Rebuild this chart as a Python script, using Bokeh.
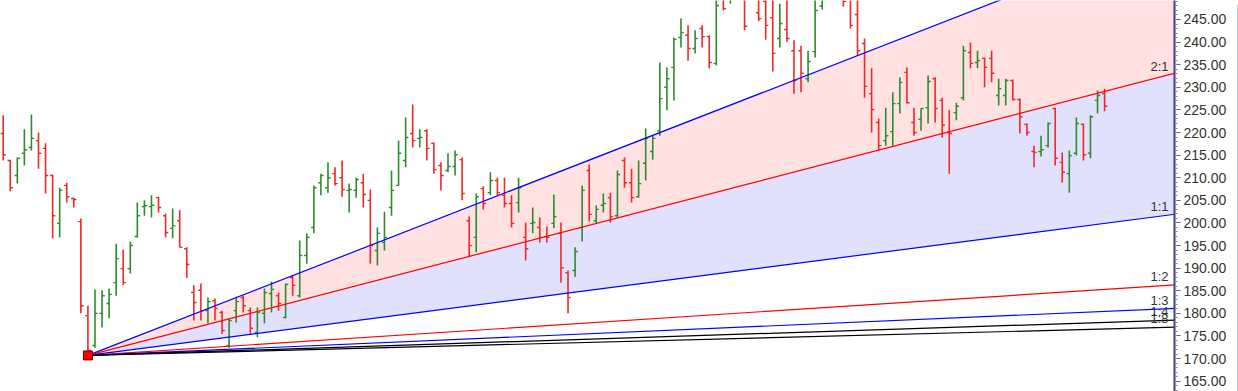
import numpy as np
from bokeh.plotting import figure
from bokeh.models import SingleIntervalTicker, PrintfTickFormatter, Div, Range1d
from bokeh.layouts import row
from bokeh.core.properties import value
from bokeh.embed import file_html
from bokeh.resources import INLINE

opens = [219.8, 213.8, 210.5, 215.4, 216.7, 218.2, 216.5, 210.5, 199.9, 208.3,
         205.4, 200.3, 179.5, 172.9, 180.0, 182.2, 186.8, 189.9, 189.9, 197.0,
         203.6, 203.6, 205.6, 201.6, 198.8, 200.5, 194.3, 184.6, 185.1, 180.6,
         182.8, 180.2, 172.9, 180.6, 183.5, 180.6, 175.8, 180.0, 184.4, 183.9,
         179.1, 187.9, 183.9, 192.8, 199.0, 208.9, 207.8, 210.9, 210.0, 207.2,
         207.2, 208.9, 205.0, 193.9, 195.7, 203.4, 208.3, 213.8, 219.8, 218.7,
         220.4, 217.6, 212.7, 211.6, 212.5, 214.0, 200.5, 196.8, 207.6, 206.7,
         209.4, 206.1, 204.3, 204.5, 196.8, 199.9, 199.0, 197.0, 199.9, 197.7,
         189.0, 189.5, 199.0, 211.6, 200.5, 203.9, 205.6, 201.6, 213.8, 208.9,
         205.8, 213.2, 215.8, 220.4, 230.0, 234.4, 241.0, 241.5, 238.6, 243.0,
         241.2, 235.3, 251.0, 249.5, 252.0, 250.5, 252.5, 246.5, 249.0, 245.4,
         240.8, 242.8, 238.1, 238.1, 231.9, 237.9, 248.0, 252.0, 254.0, 252.5,
         250.5, 246.1, 239.7, 228.6, 222.2, 218.2, 220.2, 226.4, 233.3, 222.2,
         222.9, 225.5, 231.9, 227.1, 220.0, 224.4, 227.7, 237.7, 235.5, 236.4,
         236.4, 228.2, 228.2, 231.5, 227.3, 221.8, 215.8, 215.8, 217.1, 225.3,
         213.4, 210.9, 215.4, 221.8, 215.4, 227.1, 228.6]

highs = [223.8, 214.0, 214.5, 220.7, 224.0, 220.0, 217.6, 210.7, 207.8, 208.9,
         205.6, 201.0, 181.7, 185.3, 185.1, 185.5, 195.4, 194.1, 195.9, 204.5,
         205.0, 206.1, 205.8, 202.1, 203.2, 202.8, 194.6, 186.2, 186.6, 183.5,
         183.3, 180.6, 178.9, 183.7, 183.9, 181.3, 181.3, 185.5, 187.0, 184.6,
         186.6, 188.4, 196.1, 197.7, 208.3, 210.9, 213.4, 212.3, 213.8, 208.7,
         210.0, 210.9, 207.4, 199.0, 202.5, 211.6, 218.2, 223.3, 226.2, 220.7,
         220.7, 217.8, 213.4, 215.4, 216.0, 214.5, 201.4, 206.5, 208.1, 211.2,
         210.0, 210.0, 206.1, 210.0, 200.1, 203.4, 201.2, 199.2, 206.3, 200.1,
         189.5, 194.6, 208.3, 212.9, 203.9, 206.5, 206.7, 211.6, 214.5, 212.0,
         213.8, 220.9, 219.3, 235.5, 234.4, 241.0, 245.2, 243.7, 242.6, 243.7,
         241.5, 251.0, 252.0, 253.0, 255.0, 253.0, 254.0, 252.0, 250.0, 250.0,
         248.5, 250.5, 240.4, 239.2, 238.1, 250.0, 252.0, 255.0, 256.0, 254.0,
         252.0, 250.5, 240.8, 234.2, 223.1, 225.5, 228.9, 232.2, 234.4, 225.5,
         225.3, 232.6, 232.2, 227.7, 224.9, 226.6, 239.2, 239.9, 238.1, 236.6,
         238.1, 231.9, 231.9, 231.7, 227.5, 222.0, 217.1, 219.3, 222.2, 225.5,
         215.6, 216.0, 223.3, 222.0, 223.8, 229.3, 229.7]

lows = [213.8, 207.0, 208.7, 212.7, 216.0, 212.0, 206.5, 196.6, 196.8, 204.5,
        203.4, 180.0, 170.7, 172.4, 176.9, 178.9, 183.9, 186.2, 188.8, 196.8,
        201.6, 201.2, 202.3, 196.8, 196.6, 194.6, 187.9, 178.4, 178.4, 177.8,
        178.4, 175.5, 172.4, 178.0, 180.2, 175.5, 174.7, 177.8, 180.2, 180.6,
        178.9, 183.9, 183.5, 191.0, 197.7, 206.1, 206.7, 208.3, 205.8, 202.3,
        205.6, 203.4, 191.0, 190.6, 193.9, 201.6, 208.3, 212.3, 216.7, 216.7,
        213.8, 210.9, 207.2, 211.2, 210.5, 205.0, 192.4, 193.5, 203.0, 206.1,
        206.1, 203.4, 199.0, 202.3, 191.7, 197.7, 195.7, 195.7, 198.8, 186.8,
        180.0, 188.1, 195.9, 200.3, 199.9, 202.3, 200.1, 201.2, 207.8, 204.5,
        205.6, 209.4, 214.0, 219.3, 224.9, 227.1, 238.8, 235.9, 237.5, 238.8,
        234.2, 234.8, 247.0, 248.5, 250.5, 242.6, 249.8, 244.6, 240.5, 233.5,
        238.8, 240.1, 228.6, 228.9, 231.1, 236.6, 247.2, 250.5, 251.0, 247.9,
        243.0, 237.0, 227.7, 220.0, 216.0, 217.1, 217.1, 224.2, 226.4, 219.3,
        220.4, 222.0, 222.2, 218.9, 210.9, 222.7, 227.1, 234.2, 234.2, 230.0,
        231.1, 226.0, 226.0, 227.1, 219.8, 219.3, 212.3, 214.7, 216.7, 212.7,
        208.9, 206.7, 214.9, 213.8, 214.3, 224.2, 224.7]

closes = [215.1, 207.8, 214.3, 216.2, 218.7, 215.4, 210.5, 201.6, 207.2, 205.8,
          205.2, 181.7, 171.8, 180.0, 183.9, 184.2, 192.1, 186.8, 195.0, 201.6,
          203.8, 203.9, 203.4, 197.9, 199.4, 194.6, 190.8, 182.4, 180.6, 182.6,
          181.1, 176.2, 178.4, 182.6, 181.7, 176.7, 180.2, 184.6, 185.3, 182.2,
          186.4, 186.2, 192.8, 196.8, 207.8, 210.5, 210.0, 208.7, 207.4, 207.4,
          209.6, 206.3, 195.0, 197.7, 196.8, 207.2, 215.4, 218.9, 218.2, 218.9,
          216.5, 211.8, 210.5, 212.5, 215.1, 206.5, 195.0, 205.8, 204.3, 209.4,
          206.7, 204.3, 199.9, 207.8, 194.3, 200.1, 196.8, 196.8, 201.4, 190.1,
          183.5, 193.7, 207.2, 201.9, 203.0, 204.3, 201.4, 210.7, 208.9, 205.6,
          208.7, 218.7, 218.7, 227.5, 231.9, 240.6, 242.1, 238.6, 240.8, 241.2,
          235.5, 248.1, 247.4, 252.0, 253.0, 243.5, 251.0, 245.2, 243.7, 237.5,
          244.1, 240.8, 231.5, 233.1, 235.7, 247.0, 251.0, 254.0, 252.0, 249.0,
          243.7, 238.1, 230.2, 225.1, 217.1, 219.3, 226.4, 231.1, 226.6, 220.0,
          225.3, 231.3, 225.3, 221.6, 219.8, 225.8, 238.1, 235.3, 235.9, 234.4,
          233.1, 229.7, 231.5, 227.3, 223.5, 220.0, 215.6, 216.2, 222.0, 214.3,
          211.2, 214.9, 222.0, 215.1, 223.5, 228.2, 225.8]

# Gann fan
origin_bar = 12
gann_unit = 0.2028          # price per bar for the 1:1 line
fan_ratios = [3, 2, 1, 1 / 2, 1 / 3, 1 / 4, 1 / 5]
fan_labels = ["3:1", "2:1", "1:1", "1:2", "1:3", "1:4", "1:8"]
fan_colors = ["#0000ff", "#ff0000", "#0000ff", "#ff0000", "#0000ff", "#000000", "#000000"]

y_lo, y_hi = 162.72, 249.2
x_lo, x_hi = -0.382, 165.9

idx = np.arange(len(opens))
o = np.array(opens); h = np.array(highs); l = np.array(lows); c = np.array(closes)
up = c >= o
GREEN, RED = "#2e8b2e", "#f02828"
col = [GREEN if u else RED for u in up]

p = figure(frame_width=1174, frame_height=391, x_range=Range1d(x_lo, x_hi),
           y_range=Range1d(y_lo, y_hi), x_axis_location=None, y_axis_location="right",
           toolbar_location=None, output_backend="svg",
           min_border_left=0, min_border_top=0, min_border_bottom=0, min_border_right=58)
p.outline_line_color = None
p.background_fill_color = "white"
p.border_fill_color = "white"
p.xgrid.visible = False
p.ygrid.visible = False

ax = p.yaxis[0]
ax.ticker = SingleIntervalTicker(interval=5, num_minor_ticks=5)
ax.formatter = PrintfTickFormatter(format="%.2f")
ax.major_label_text_font = "Liberation Sans"
ax.major_label_text_font_size = "14px"
ax.major_label_text_color = "#333333"
ax.axis_line_color = "#3c3c96"
ax.axis_line_width = 2
ax.major_tick_line_color = "#666666"
ax.major_tick_out = 6
ax.major_tick_in = 0
ax.minor_tick_line_color = "#888888"
ax.minor_tick_out = 3
ax.minor_tick_in = 0
ax.major_label_standoff = 3

# fan geometry
ox = origin_bar
oy = lows[origin_bar]
x_end = x_hi + 1
ends = [oy + r * gann_unit * (x_end - ox) for r in fan_ratios]

p.patch([ox, x_end, x_end], [oy, ends[0], ends[1]], fill_color="#ffe1e1", line_color=None)
p.patch([ox, x_end, x_end], [oy, ends[1], ends[2]], fill_color="#e1e1fd", line_color=None)

# OHLC bars
p.segment(x0=idx, y0=l, x1=idx, y1=h, line_color=col, line_width=1.6)
p.segment(x0=idx - 0.38, y0=o, x1=idx, y1=o, line_color=col, line_width=1.4)
p.segment(x0=idx, y0=c, x1=idx + 0.38, y1=c, line_color=col, line_width=1.4)

# fan lines
for r, e, colr in zip(fan_ratios, ends, fan_colors):
    p.line([ox, x_end], [oy, e], line_color=colr, line_width=1.2)

# fan labels at the right edge
lab_x = (1168 - 2.7) / 7.06 + x_lo + 0.382
lx, ly, lt = [], [], []
for r, t in zip(fan_ratios, fan_labels):
    yv = oy + r * gann_unit * (lab_x - ox)
    if yv < y_hi - 2:
        lx.append(lab_x); ly.append(yv); lt.append(t)
p.text(x=lx, y=ly, text=lt, text_align="right", text_baseline="bottom",
       text_font=value("Liberation Sans"), text_font_size=value("13px"),
       text_color="#333333", y_offset=-1)

p.scatter(x=[ox], y=[oy], marker="square", size=9, fill_color="#ff0000",
          line_color="#600000", line_width=1)

strip = Div(width=6, height=391, styles={"background-color": "#b9d1ea"})
layout = row(p, strip)

open("out.html", "w").write(file_html(layout, INLINE))
